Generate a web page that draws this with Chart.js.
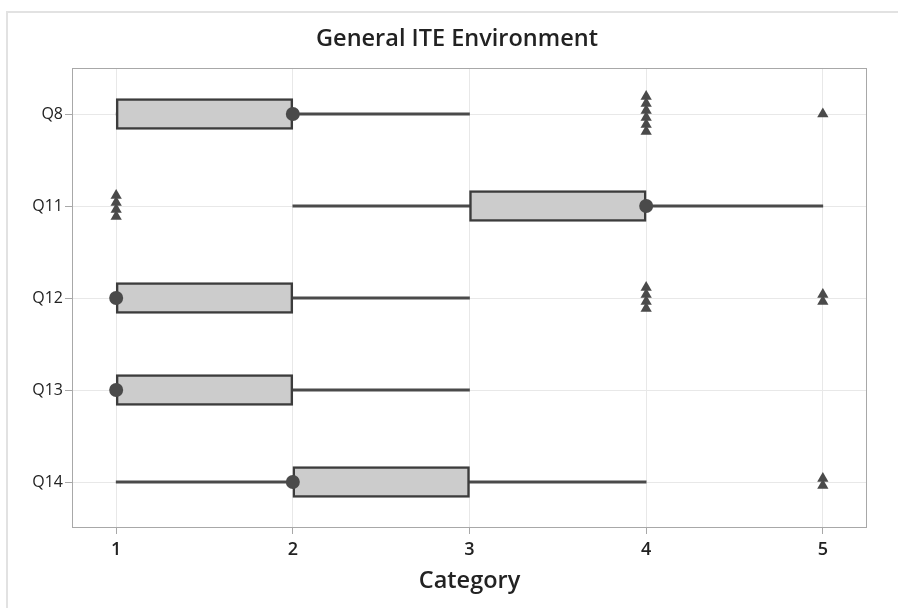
<!DOCTYPE html>
<html>
<head>
<meta charset="utf-8">
<script src="https://cdn.jsdelivr.net/npm/chart.js@4"></script>
<style>
  html, body { margin: 0; padding: 0; background: #fff; }
  #wrap { width: 898px; height: 608px; }
</style>
</head>
<body>
<div id="wrap"><canvas id="chart" width="898" height="608"></canvas></div>
<script>
// --- data
const categories  = ['Q8', 'Q11', 'Q12', 'Q13', 'Q14'];
const whiskerLow  = [1, 2, 1, 1, 1];
const q1          = [1, 3, 1, 1, 2];
const q3          = [2, 4, 2, 2, 3];
const whiskerHigh = [3, 5, 3, 3, 4];
const centers     = [2, 4, 1, 1, 2];   // filled dot
const outliers    = [
    [4, 4, 4, 4, 4, 4, 5],
    [1, 1, 1, 1],
    [4, 4, 4, 4, 5, 5],
    [],
    [5, 5]
];
const xTicks = [1, 2, 3, 4, 5];

const DARK = '#4a4a4a';
const STACK_STEP = 0.076; // vertical spacing of repeated outliers (category units)

// build the outlier points, repeated values are stacked around the row line
const outlierPoints = [];
outliers.forEach((vals, i) => {
    const counts = {};
    vals.forEach(v => { counts[v] = (counts[v] || 0) + 1; });
    Object.keys(counts).forEach(k => {
        const n = counts[k];
        for (let j = 0; j < n; j++) {
            outlierPoints.push({x: Number(k), y: i + (j - (n - 1) / 2) * STACK_STEP});
        }
    });
});

const frame = {
    id: 'frame',
    beforeDraw(chart) {
        const c = chart.ctx;
        c.save();
        c.fillStyle = '#fff';
        c.fillRect(0, 0, chart.width, chart.height);
        c.strokeStyle = '#e2e2e2';
        c.lineWidth = 2;
        c.beginPath();
        c.moveTo(7, chart.height);
        c.lineTo(7, 12);
        c.lineTo(chart.width, 12);
        c.stroke();
        c.restore();
    },
    afterDraw(chart) {
        const a = chart.chartArea;
        const c = chart.ctx;
        c.save();
        c.strokeStyle = '#a8a8a8';
        c.lineWidth = 1;
        c.strokeRect(a.left + 0.5, a.top + 0.5, a.right - a.left - 1, a.bottom - a.top - 1);
        c.restore();
    }
};

new Chart(document.getElementById('chart'), {
    type: 'bar',
    data: {
        labels: categories,
        datasets: [
            {
                type: 'scatter',
                data: outlierPoints,
                xAxisID: 'x',
                yAxisID: 'yl',
                pointStyle: 'triangle',
                pointRadius: 6.5,
                backgroundColor: DARK,
                borderColor: DARK,
                borderWidth: 0,
                order: 1
            },
            {
                type: 'scatter',
                data: centers.map((v, i) => ({x: v, y: i})),
                xAxisID: 'x',
                yAxisID: 'yl',
                pointStyle: 'circle',
                pointRadius: 7,
                backgroundColor: DARK,
                borderColor: DARK,
                borderWidth: 0,
                order: 1
            },
            {
                data: q1.map((v, i) => [v, q3[i]]),
                indexAxis: 'y',
                xAxisID: 'x',
                yAxisID: 'y',
                grouped: false,
                barThickness: 31,
                backgroundColor: '#cccccc',
                borderColor: '#3c3c3c',
                borderWidth: 2.5,
                borderSkipped: false,
                order: 2
            },
            {
                data: whiskerLow.map((v, i) => [v, whiskerHigh[i]]),
                indexAxis: 'y',
                xAxisID: 'x',
                yAxisID: 'y',
                grouped: false,
                barThickness: 2.5,
                backgroundColor: DARK,
                borderWidth: 0,
                order: 3
            }
        ]
    },
    options: {
        responsive: false,
        animation: false,
        layout: {
            padding: {left: 16, right: 0, top: 0, bottom: 0}
        },
        plugins: {
            legend: {display: false},
            tooltip: {enabled: false},
            title: {
                display: true,
                text: 'General ITE Environment',
                color: '#222',
                font: {family: 'Open Sans', size: 23.5, weight: '600', lineHeight: 1.2},
                padding: {top: 25, bottom: 14.8}
            }
        },
        scales: {
            x: {
                type: 'linear',
                position: 'bottom',
                offset: false,
                min: 0.75,
                max: 5.25,
                afterBuildTicks: scale => { scale.ticks = xTicks.map(v => ({value: v})); },
                afterFit: scale => { scale.height = 80; },
                grid: {color: '#e8e8e8', tickColor: '#a8a8a8', tickLength: 6, offset: false},
                border: {display: false},
                ticks: {
                    color: '#222',
                    padding: 5,
                    font: {family: 'Open Sans', size: 18, weight: '600'}
                },
                title: {
                    display: true,
                    text: 'Category',
                    color: '#222',
                    font: {family: 'Open Sans', size: 23.5, weight: '600', lineHeight: 1.2},
                    padding: {top: 0, bottom: 13}
                }
            },
            y: {
                type: 'category',
                position: 'left',
                offset: true,
                afterFit: scale => { scale.width = 56; },
                grid: {color: '#e8e8e8', tickColor: '#a8a8a8', tickLength: 7, offset: false},
                border: {display: false},
                ticks: {
                    color: '#222',
                    padding: 2,
                    font: {family: 'Open Sans', size: 16}
                }
            },
            yl: {
                type: 'linear',
                display: false,
                min: -0.5,
                max: 4.5,
                reverse: true
            },
            yr: {
                type: 'linear',
                position: 'right',
                afterFit: scale => { scale.width = 31; },
                grid: {display: false},
                border: {display: false},
                ticks: {display: false}
            }
        }
    },
    plugins: [frame]
});
</script>
</body>
</html>
